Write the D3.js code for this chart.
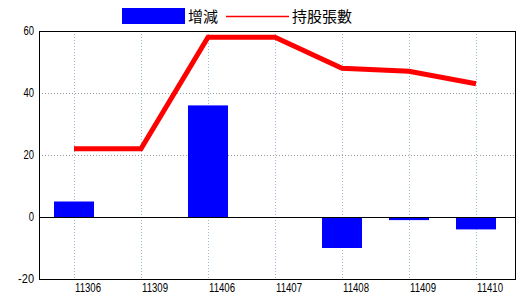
<!DOCTYPE html>
<html>
<head>
<meta charset="utf-8">
<script src="https://cdn.jsdelivr.net/npm/d3@7"></script>
<style>
  body { margin: 0; background: #fff; }
  text { font-family: "Liberation Sans", Arial, sans-serif; }
</style>
</head>
<body>
<svg id="chart" width="520" height="300"></svg>
<script>
// data
var months = ['11306', '11309', '11406', '11407', '11408', '11409', '11410'];
var changes = [5, 0, 36, 0, -10, -1, -4];
var shares = [22, 22, 58, 58, 48, 47, 43];
var yTicks = [-20, 0, 20, 40, 60];

var svg = d3.select('#chart');

var plotL = 39, plotR = 515, plotT = 31, plotB = 279;

var x = d3.scalePoint()
	.domain(months)
	.range([74, 476]);

var y = d3.scaleLinear()
	.domain([-20, 60])
	.range([plotB, plotT]);

// grid
svg.append('g')
	.selectAll('line')
	.data([20, 40])
	.enter().append('line')
	.attr('x1', plotL).attr('x2', plotR)
	.attr('y1', function(d){ return Math.round(y(d)) + 0.5; })
	.attr('y2', function(d){ return Math.round(y(d)) + 0.5; })
	.style('stroke', '#999')
	.style('stroke-dasharray', '1,2');

svg.append('g')
	.selectAll('line')
	.data(months)
	.enter().append('line')
	.attr('x1', function(d){ return Math.round(x(d)) + 0.5; })
	.attr('x2', function(d){ return Math.round(x(d)) + 0.5; })
	.attr('y1', plotT).attr('y2', plotB)
	.style('stroke', '#9bbcd6')
	.style('stroke-dasharray', '1,2');

// bars
var barW = 40;
svg.append('g')
	.selectAll('rect')
	.data(changes)
	.enter().append('rect')
	.attr('x', function(d, i){ return Math.round(x(months[i]) - barW / 2); })
	.attr('y', function(d){ return y(Math.max(0, d)); })
	.attr('width', barW)
	.attr('height', function(d){ return Math.abs(y(d) - y(0)); })
	.style('fill', '#0000ff');

// zero line
svg.append('line')
	.attr('x1', plotL).attr('x2', plotR)
	.attr('y1', Math.round(y(0)) + 0.5).attr('y2', Math.round(y(0)) + 0.5)
	.style('stroke', '#000');

// line
var line = d3.line()
	.x(function(d, i){ return x(months[i]); })
	.y(function(d){ return y(d); });

svg.append('path')
	.datum(shares)
	.attr('d', line)
	.style('fill', 'none')
	.style('stroke', '#ff0000')
	.style('stroke-width', 5);

// frame
svg.append('rect')
	.attr('x', plotL + 0.5).attr('y', plotT + 0.5)
	.attr('width', plotR - plotL).attr('height', plotB - plotT)
	.style('fill', 'none')
	.style('stroke', '#000');

// axes labels (narrow, like the original bitmap font)
svg.append('g')
	.selectAll('text')
	.data(yTicks)
	.enter().append('text')
	.attr('x', plotL - 5)
	.attr('y', function(d){ return y(d) + 4; })
	.attr('text-anchor', 'end')
	.attr('textLength', function(d){ return String(d).length * 5.3; })
	.attr('lengthAdjust', 'spacingAndGlyphs')
	.style('font-size', '12px')
	.text(function(d){ return d; });

svg.append('g')
	.selectAll('text')
	.data(months)
	.enter().append('text')
	.attr('x', function(d){ return x(d) + 14; })
	.attr('y', plotB + 13)
	.attr('text-anchor', 'middle')
	.attr('textLength', 26)
	.attr('lengthAdjust', 'spacingAndGlyphs')
	.style('font-size', '12px')
	.text(function(d){ return d; });

// legend
var lg = svg.append('g');
lg.append('rect')
	.attr('x', 122).attr('y', 8)
	.attr('width', 63).attr('height', 16)
	.style('fill', '#0000ff');
lg.append('text')
	.attr('x', 188).attr('y', 22)
	.style('font-family', '"Noto Sans CJK TC", sans-serif')
	.style('font-size', '15px')
	.text('增減');
lg.append('line')
	.attr('x1', 226).attr('x2', 289)
	.attr('y1', 16.5).attr('y2', 16.5)
	.style('stroke', '#ff0000')
	.style('stroke-width', 1.5);
lg.append('text')
	.attr('x', 292).attr('y', 22)
	.style('font-family', '"Noto Sans CJK TC", sans-serif')
	.style('font-size', '15px')
	.text('持股張數');
</script>
</body>
</html>
